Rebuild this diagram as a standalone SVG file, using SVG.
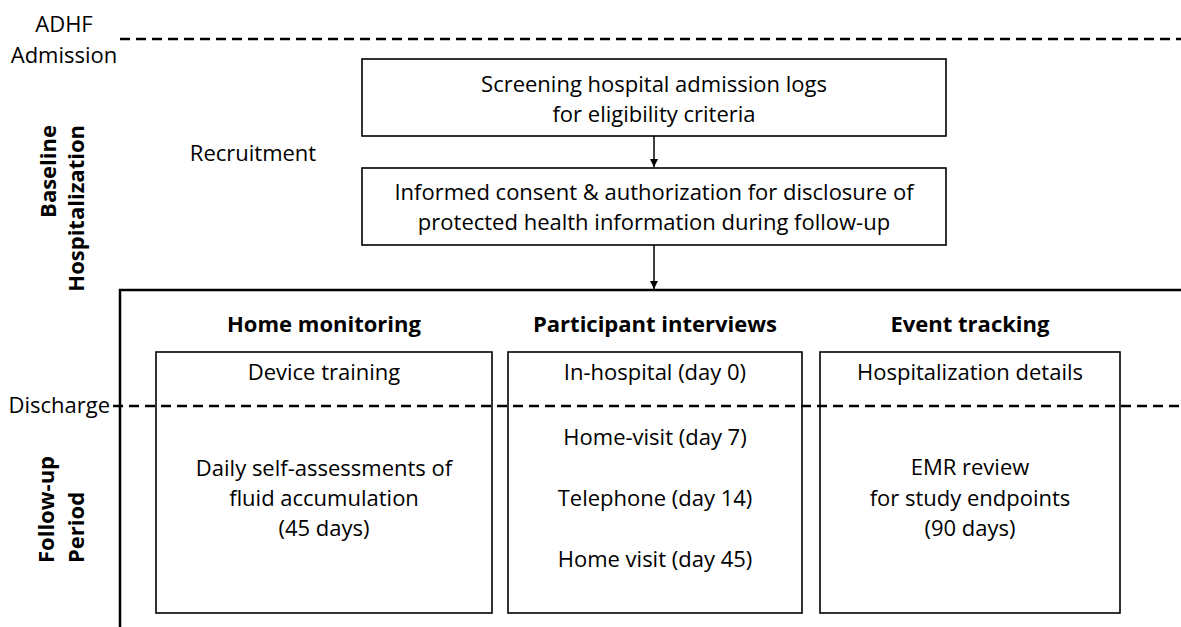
<svg xmlns="http://www.w3.org/2000/svg" width="1181" height="627" viewBox="0 0 1181 627">
<style>
  text { font-family: "Open Sans", "Noto Sans", "Liberation Sans", sans-serif; font-size: 22px; fill: #000; }
  .c { text-anchor: middle; }
  .b { font-weight: bold; }
  .box { fill: none; stroke: #000; stroke-width: 1.6; }
  .dash { stroke: #000; stroke-width: 2.5; stroke-dasharray: 10 6; fill: none; }
  .frame { stroke: #000; stroke-width: 2.5; fill: none; }
  .conn { stroke: #000; stroke-width: 1.5; fill: none; }
</style>
<defs>
  <marker id="arr" viewBox="0 0 10 10" refX="10" refY="5" markerWidth="8" markerHeight="8" markerUnits="userSpaceOnUse" orient="auto">
    <path d="M0,0 L10,5 L0,10 z" fill="#000"/>
  </marker>
</defs>
<rect width="1181" height="627" fill="#fff"/>

<g id="timeline">
  <line class="dash" x1="120" y1="39" x2="1181" y2="39"/>
  <line class="dash" x1="113" y1="406" x2="1181" y2="406"/>
  <text class="c" x="64" y="32">ADHF</text>
  <text class="c" x="64" y="63">Admission</text>
  <text x="110" y="413" text-anchor="end">Discharge</text>
  <text class="c" x="253" y="161">Recruitment</text>
  <g transform="translate(56,125) rotate(-90)"><text class="b" text-anchor="end">Baseline</text></g>
  <g transform="translate(84,125) rotate(-90)"><text class="b" text-anchor="end">Hospitalization</text></g>
  <g transform="translate(54,563) rotate(-90)"><text class="b">Follow-up</text></g>
  <g transform="translate(84,563) rotate(-90)"><text class="b">Period</text></g>
</g>

<g id="screening">
  <rect class="box" x="362" y="59" width="584" height="77"/>
  <text class="c" x="654" y="92">Screening hospital admission logs</text>
  <text class="c" x="654" y="122">for eligibility criteria</text>
</g>

<g id="consent">
  <rect class="box" x="362" y="168" width="584" height="77"/>
  <text class="c" x="654" y="200">Informed consent &amp; authorization for disclosure of</text>
  <text class="c" x="654" y="230">protected health information during follow-up</text>
</g>

<g id="followup-frame">
  <polyline class="frame" points="120,627 120,290 1181,290"/>
</g>

<g id="home-monitoring">
  <text class="c b" x="324" y="332">Home monitoring</text>
  <rect class="box" x="156" y="352" width="336" height="261"/>
  <text class="c" x="324" y="380">Device training</text>
  <text class="c" x="324" y="476">Daily self-assessments of</text>
  <text class="c" x="324" y="506">fluid accumulation</text>
  <text class="c" x="324" y="536">(45 days)</text>
</g>

<g id="participant-interviews">
  <text class="c b" x="655" y="332">Participant interviews</text>
  <rect class="box" x="508" y="352" width="294" height="261"/>
  <text class="c" x="655" y="380">In-hospital (day 0)</text>
  <text class="c" x="655" y="445">Home-visit (day 7)</text>
  <text class="c" x="655" y="506">Telephone (day 14)</text>
  <text class="c" x="655" y="567">Home visit (day 45)</text>
</g>

<g id="event-tracking">
  <text class="c b" x="970" y="332">Event tracking</text>
  <rect class="box" x="820" y="352" width="300" height="261"/>
  <text class="c" x="970" y="380">Hospitalization details</text>
  <text class="c" x="970" y="475">EMR review</text>
  <text class="c" x="970" y="506">for study endpoints</text>
  <text class="c" x="970" y="536">(90 days)</text>
</g>

<g id="connectors">
  <line class="conn" x1="654" y1="136" x2="654" y2="167" marker-end="url(#arr)"/>
  <line class="conn" x1="654" y1="245" x2="654" y2="289" marker-end="url(#arr)"/>
</g>
</svg>
